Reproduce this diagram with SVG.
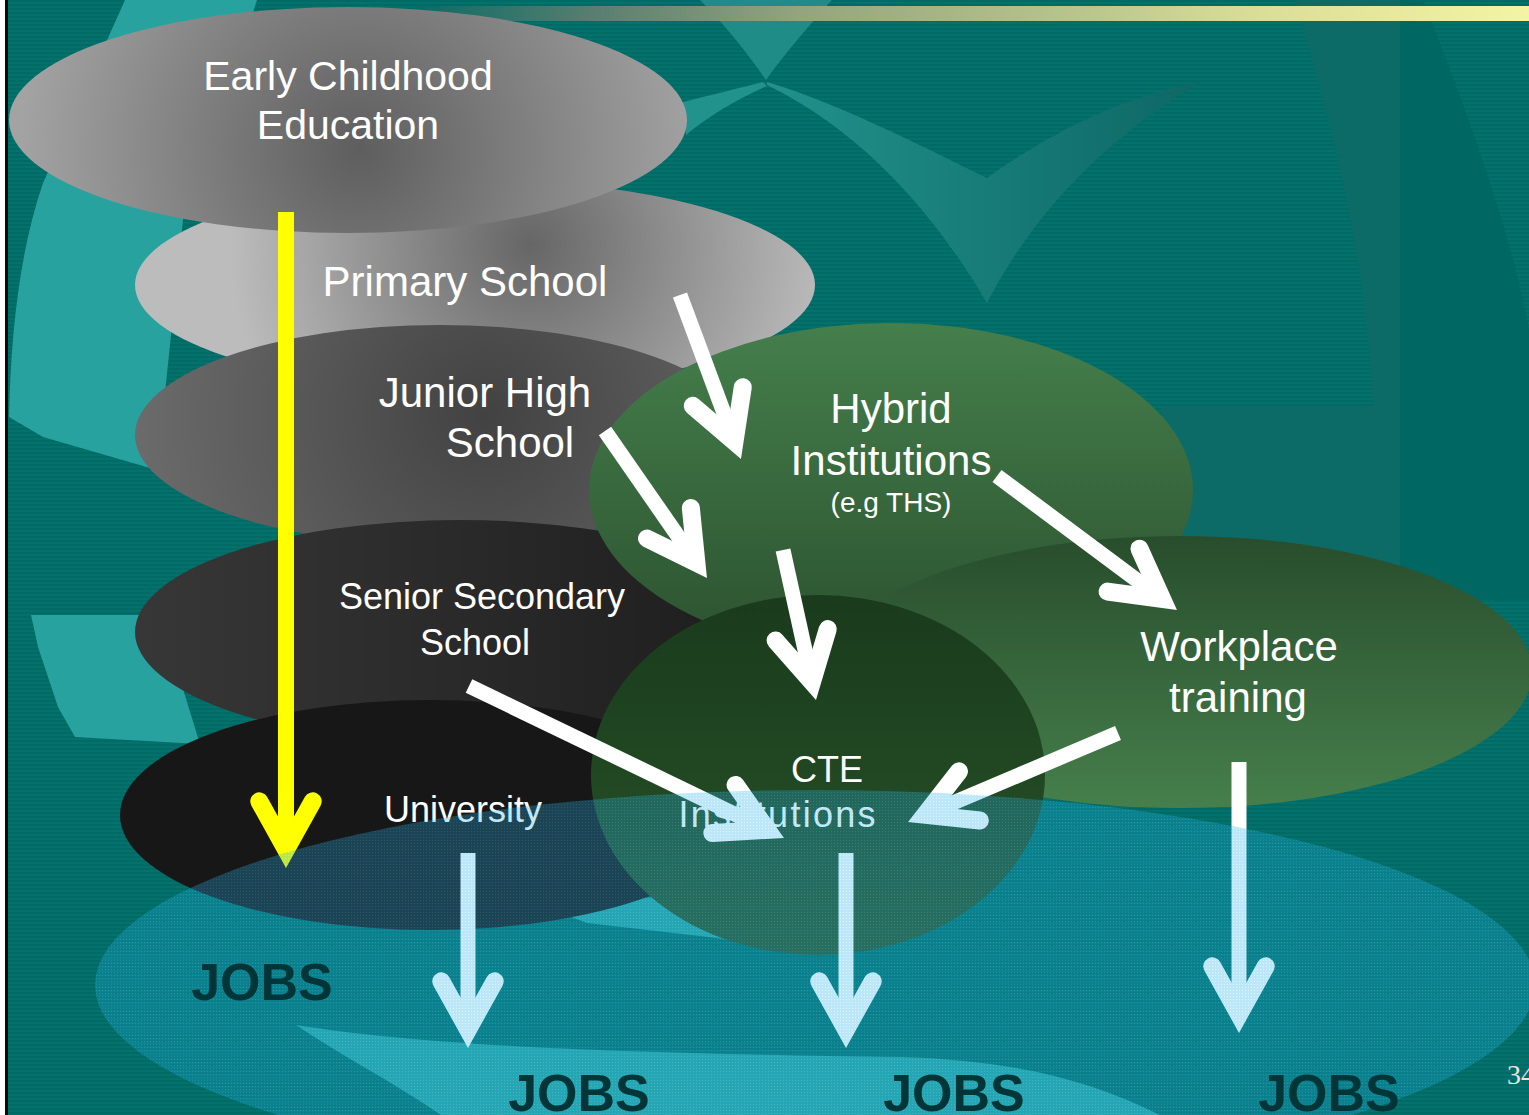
<svg xmlns="http://www.w3.org/2000/svg" xmlns:xlink="http://www.w3.org/1999/xlink" width="1529" height="1115" viewBox="0 0 1529 1115">
<defs>
  <pattern id="stripes" width="8" height="4" patternUnits="userSpaceOnUse">
    <rect width="8" height="4" fill="#006a65"/>
    <rect y="2" width="8" height="2" fill="#03716c"/>
  </pattern>
  <linearGradient id="gBar" gradientUnits="userSpaceOnUse" x1="420" y1="0" x2="1529" y2="0">
    <stop offset="0" stop-color="#0b6b66"/>
    <stop offset="0.16" stop-color="#5a7f70"/>
    <stop offset="0.34" stop-color="#93a47e"/>
    <stop offset="0.61" stop-color="#bcc78e"/>
    <stop offset="0.75" stop-color="#dadd98"/>
    <stop offset="1" stop-color="#f4f4a4"/>
  </linearGradient>
  <linearGradient id="gCheck" gradientUnits="userSpaceOnUse" x1="770" y1="0" x2="1200" y2="0">
    <stop offset="0" stop-color="#22918b"/>
    <stop offset="1" stop-color="#0d6765"/>
  </linearGradient>
  <radialGradient id="gEarly" gradientUnits="userSpaceOnUse" cx="360" cy="150" r="340">
    <stop offset="0" stop-color="#5e5e5e"/>
    <stop offset="1" stop-color="#a3a3a3"/>
  </radialGradient>
  <radialGradient id="gPrimary" gradientUnits="userSpaceOnUse" cx="530" cy="245" r="300">
    <stop offset="0" stop-color="#666666"/>
    <stop offset="1" stop-color="#bcbcbc"/>
  </radialGradient>
  <radialGradient id="gJunior" gradientUnits="userSpaceOnUse" cx="485" cy="415" r="350">
    <stop offset="0" stop-color="#424242"/>
    <stop offset="1" stop-color="#6b6b6b"/>
  </radialGradient>
  <linearGradient id="gSenior" gradientUnits="userSpaceOnUse" x1="136" y1="0" x2="790" y2="0">
    <stop offset="0" stop-color="#373737"/>
    <stop offset="1" stop-color="#1c1c1c"/>
  </linearGradient>
  <linearGradient id="gHybrid" gradientUnits="userSpaceOnUse" x1="0" y1="323" x2="0" y2="620">
    <stop offset="0" stop-color="#457f4c"/>
    <stop offset="1" stop-color="#2e5632"/>
  </linearGradient>
  <linearGradient id="gWork" gradientUnits="userSpaceOnUse" x1="0" y1="536" x2="0" y2="808">
    <stop offset="0" stop-color="#284d2c"/>
    <stop offset="1" stop-color="#467f4c"/>
  </linearGradient>
  <linearGradient id="gCte" gradientUnits="userSpaceOnUse" x1="0" y1="595" x2="0" y2="955">
    <stop offset="0" stop-color="#1a3b1c"/>
    <stop offset="1" stop-color="#275429"/>
  </linearGradient>
  <pattern id="dots" width="3" height="3" patternUnits="userSpaceOnUse">
    <rect width="3" height="3" fill="#1fb0e8"/>
    <rect width="1" height="1" fill="#8fdcff"/>
  </pattern>
  <path id="ah" d="M-26.7,-66.7 L0,-18.6 L26.7,-66.7"/>
  <style>
    .lbl { font-family: "Liberation Sans", Arial, Helvetica, sans-serif; fill: #ffffff; text-anchor: middle; }
    .jobs { font-family: "Liberation Sans", Arial, Helvetica, sans-serif; font-weight: bold; font-size: 52px; fill: #023538; text-anchor: middle; }
    .lt { fill: #27a29e; }
    .shaft { stroke: #ffffff; stroke-width: 15; fill: none; }
    .head { stroke: #ffffff; stroke-width: 18; fill: none; stroke-linecap: round; stroke-linejoin: miter; stroke-miterlimit: 10; }
    .yshaft { stroke: #ffff00; stroke-width: 16; fill: none; }
    .yhead { stroke: #ffff00; stroke-width: 18; fill: none; stroke-linecap: round; stroke-linejoin: miter; stroke-miterlimit: 10; }
  </style>
</defs>

<g id="background">
  <rect width="1529" height="1115" fill="url(#stripes)"/>
  <path d="M1295,0 C1330,120 1365,250 1373,406 L1162,406 L1162,600 L1400,600 L1400,0 Z" fill="#0c6a67"/>
  <path d="M1400,0 L1423,0 C1470,120 1510,230 1529,330 L1529,600 L1400,600 Z" fill="#016762"/>
  <path class="lt" d="M257,0 C235,70 195,160 183,220 L157,470 L43,437 L9,417 C11,330 20,250 43,183 L125,0 Z"/>
  <path class="lt" d="M31,615 L160,615 L200,744 L75,737 L58,707 L38,647 Z"/>
  <path class="lt" d="M540,905 L760,890 L760,945 L717,938 L587,923 Z"/>
  <path class="lt" d="M296,1025 C420,1045 600,1053 900,1057 C1000,1060 1080,1075 1160,1115 L441,1115 C390,1080 340,1055 296,1025 Z"/>
  <path d="M700,0 L832,0 C805,30 780,60 766,80 C752,60 730,30 700,0 Z" fill="#1f8c87"/>
  <path d="M763,82 C740,88 710,95 683,102 L686,135 C710,115 740,98 767,86 Z" fill="#22928d"/>
  <path d="M767,82 C830,100 920,145 987,178 C1040,140 1120,95 1201,82 C1120,130 1040,200 987,303 C950,240 880,140 767,85 Z" fill="url(#gCheck)"/>
  <rect x="420" y="6" width="1109" height="15" fill="url(#gBar)"/>
  <rect x="0" y="0" width="5" height="1115" fill="#ffffff"/>
  <rect x="5" y="0" width="3" height="1115" fill="#0a0a0a"/>
</g>

<g id="node-primary">
  <ellipse cx="475" cy="285" rx="340" ry="105" fill="url(#gPrimary)"/>
  <text class="lbl" x="465" y="296" font-size="42">Primary School</text>
</g>
<g id="node-early">
  <ellipse cx="348" cy="120" rx="339" ry="113" fill="url(#gEarly)"/>
  <text class="lbl" x="348" y="90" font-size="41">Early Childhood</text>
  <text class="lbl" x="348" y="139" font-size="41">Education</text>
</g>
<g id="node-junior">
  <ellipse cx="440" cy="435" rx="305" ry="110" fill="url(#gJunior)"/>
  <text class="lbl" x="485" y="407" font-size="42">Junior High</text>
  <text class="lbl" x="510" y="457" font-size="42">School</text>
</g>
<g id="node-senior">
  <ellipse cx="460" cy="632" rx="325" ry="112" fill="url(#gSenior)"/>
  <text class="lbl" x="482" y="609" font-size="36">Senior Secondary</text>
  <text class="lbl" x="475" y="655" font-size="36">School</text>
</g>
<g id="node-university">
  <ellipse cx="430" cy="815" rx="310" ry="115" fill="#171717"/>
  <text class="lbl" x="463" y="822" font-size="36">University</text>
</g>
<g id="node-hybrid">
  <ellipse cx="891" cy="490" rx="302" ry="167" fill="url(#gHybrid)"/>
  <text class="lbl" x="891" y="423" font-size="42">Hybrid</text>
  <text class="lbl" x="891" y="475" font-size="42">Institutions</text>
  <text class="lbl" x="891" y="512" font-size="28">(e.g THS)</text>
</g>
<g id="node-workplace">
  <ellipse cx="1180" cy="672" rx="352" ry="136" fill="url(#gWork)"/>
  <text class="lbl" x="1239" y="661" font-size="42">Workplace</text>
  <text class="lbl" x="1238" y="712" font-size="42">training</text>
</g>
<g id="node-cte">
  <ellipse cx="818" cy="775" rx="227" ry="180" fill="url(#gCte)"/>
  <text class="lbl" x="827" y="782" font-size="36">CTE</text>
  <text class="lbl" x="777" y="827" font-size="36" textLength="197" lengthAdjust="spacing">Institutions</text>
</g>

<g id="connectors">
  <line class="yshaft" x1="286" y1="212" x2="286" y2="849"/>
  <use href="#ah" class="yhead" transform="translate(286,868)"/>

  <line class="shaft" x1="680" y1="295" x2="734.4" y2="441.2"/>
  <use href="#ah" class="head" transform="translate(741,459) rotate(-20.4)"/>

  <line class="shaft" x1="605" y1="431" x2="696.2" y2="562.4"/>
  <use href="#ah" class="head" transform="translate(707,578) rotate(-34.8)"/>

  <line class="shaft" x1="783" y1="550" x2="811.9" y2="681.4"/>
  <use href="#ah" class="head" transform="translate(816,700) rotate(-12.4)"/>

  <line class="shaft" x1="997" y1="476" x2="1161.8" y2="598.7"/>
  <use href="#ah" class="head" transform="translate(1177,610) rotate(-53.3)"/>

  <line class="shaft" x1="469" y1="686" x2="766.9" y2="829.7"/>
  <use href="#ah" class="head" transform="translate(784,838) rotate(-64.2)"/>

  <line class="shaft" x1="1118" y1="733" x2="925.5" y2="814.6"/>
  <use href="#ah" class="head" transform="translate(908,822) rotate(67)"/>

  <line class="shaft" x1="468" y1="853" x2="468" y2="1029"/>
  <use href="#ah" class="head" transform="translate(468,1048)"/>

  <line class="shaft" x1="846" y1="853" x2="846" y2="1029"/>
  <use href="#ah" class="head" transform="translate(846,1048)"/>

  <line class="shaft" x1="1239" y1="762" x2="1239" y2="1014"/>
  <use href="#ah" class="head" transform="translate(1239,1033)"/>
</g>

<g id="node-jobs">
  <ellipse cx="815" cy="985" rx="720" ry="195" fill="url(#dots)" fill-opacity="0.3"/>
  <text class="jobs" x="262" y="1000">JOBS</text>
  <text class="jobs" x="579" y="1111">JOBS</text>
  <text class="jobs" x="954" y="1111">JOBS</text>
  <text class="jobs" x="1329" y="1111">JOBS</text>
</g>

<g id="page-number">
  <text x="1507" y="1084" font-family="'Liberation Serif', 'Times New Roman', serif" font-size="28" fill="#e6e6e6">34</text>
</g>
</svg>
